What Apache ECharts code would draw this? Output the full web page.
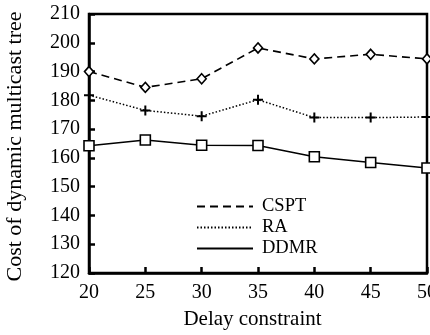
<!DOCTYPE html>
<html>
<head>
<meta charset="utf-8">
<script src="https://cdn.jsdelivr.net/npm/echarts@6/dist/echarts.min.js"></script>
<style>
  html, body { margin: 0; padding: 0; background: #fff; }
  #chart { width: 430px; height: 335px; }
</style>
</head>
<body>
<div id="chart"></div>
<script>
  // values
  const delays = [20, 25, 30, 35, 40, 45, 50]
  const cspt = [190, 184.5, 187.5, 198.2, 194.4, 196, 194.4]
  const ra = [181.8, 176.5, 174.5, 180.2, 174, 174, 174.2]
  const ddmr = [164.2, 166.2, 164.4, 164.3, 160.4, 158.4, 156.5]

  const font = 'Liberation Serif'
  const plusPath = 'path://M4,0h2v4h4v2h-4v4h-2v-4h-4v-2h4z'

  const pairs = (ys) => delays.map((d, i) => [d, ys[i]])

  const chart = echarts.init(document.getElementById('chart'))
  chart.setOption({
    animation: false,
    textStyle: { fontFamily: font, color: '#000' },
    grid: {
      left: 89, right: 3, top: 14, bottom: 62,
      outerBoundsMode: 'none',
      show: true, borderColor: '#000', borderWidth: 2.5
    },
    legend: {
      orient: 'vertical',
      left: 191, top: 192,
      itemWidth: 56, itemHeight: 14, itemGap: 2,
      textStyle: { fontFamily: font, fontSize: 18.5, color: '#000', padding: [0, 0, 0, 4] },
      itemStyle: { opacity: 0 },
      data: ['CSPT', 'RA', 'DDMR']
    },
    xAxis: {
      type: 'value',
      min: 20, max: 50, interval: 5,
      name: 'Delay constraint',
      nameLocation: 'middle', nameGap: 36,
      nameTextStyle: { fontFamily: font, fontSize: 21, color: '#000', padding: [0, 11, 0, 0] },
      axisLine: { lineStyle: { color: '#000', width: 2.5 } },
      axisTick: { inside: true, length: 6, lineStyle: { color: '#000', width: 2.5 } },
      axisLabel: { fontFamily: font, fontSize: 20, color: '#000', margin: 10 },
      splitLine: { show: false }
    },
    yAxis: {
      type: 'value',
      min: 120, max: 210, interval: 10,
      name: 'Cost of dynamic multicast tree',
      nameLocation: 'middle', nameGap: 63,
      nameTextStyle: { fontFamily: font, fontSize: 22, color: '#000', padding: [0, 6, 0, 0] },
      axisLine: { lineStyle: { color: '#000', width: 2.5 } },
      axisTick: { inside: true, length: 6, lineStyle: { color: '#000', width: 2.5 } },
      axisLabel: { fontFamily: font, fontSize: 20, color: '#000', margin: 9 },
      splitLine: { show: false }
    },
    series: [
      {
        name: 'CSPT', type: 'line', data: pairs(cspt),
        symbol: 'diamond', symbolSize: [9, 10], showAllSymbol: true,
        lineStyle: { color: '#000', width: 1.6, type: [8, 5] },
        itemStyle: { color: '#fff', borderColor: '#000', borderWidth: 1.6 }
      },
      {
        name: 'RA', type: 'line', data: pairs(ra),
        symbol: plusPath, symbolSize: 10, showAllSymbol: true,
        lineStyle: { color: '#000', width: 1.5, type: [1.5, 2] },
        itemStyle: { color: '#000' }
      },
      {
        name: 'DDMR', type: 'line', data: pairs(ddmr),
        symbol: 'rect', symbolSize: 10, showAllSymbol: true,
        lineStyle: { color: '#000', width: 1.6 },
        itemStyle: { color: '#fff', borderColor: '#000', borderWidth: 1.6 }
      }
    ]
  })
</script>
</body>
</html>
